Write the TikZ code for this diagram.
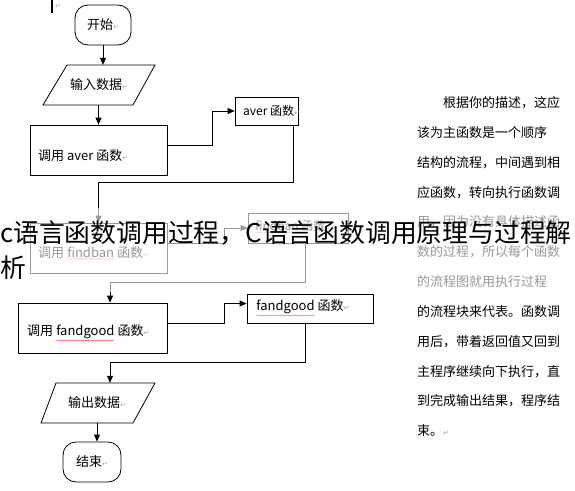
\documentclass[tikz,border=0pt]{standalone}
\usepackage{fontspec}
\setmainfont{Noto Sans CJK SC}
\newfontfamily\symfont{DejaVu Sans}
\usetikzlibrary{arrows.meta,decorations.pathmorphing}
\newcommand\parmark{{\symfont\color{gray!70}\fontsize{7}{7}\selectfont ↵}}
\newcommand\wavyword[1]{\tikz[baseline=(w.base),x=1cm,y=1cm]{\node[inner sep=0pt,outer sep=0pt](w){#1};\draw[red!80,line width=0.3pt,decorate,decoration={snake,amplitude=0.6pt,segment length=2.5pt}] ([yshift=-1.5pt]w.south west) -- ([yshift=-1.5pt]w.south east);}}
\begin{document}
\begin{tikzpicture}[x=1pt,y=-1pt,
  lbl/.style={font=\fontsize{13}{13}\selectfont, inner sep=0pt, anchor=west},
  boxs/.style={draw, line width=0.8pt, inner sep=0pt},
  term/.style={boxs, rounded corners=13pt, font=\fontsize{13}{13}\selectfont},
  para/.style={inner sep=0pt, minimum width=60pt, minimum height=40pt, font=\fontsize{13}{13}\selectfont},
  arr/.style={line width=0.8pt, -{Triangle[length=7pt,width=6pt]}},
  ln/.style={line width=0.8pt},
  rtxt/.style={font=\fontsize{13}{13}\selectfont, inner sep=0pt, anchor=west},
  ovl/.style={font=\fontsize{25.8}{26}\selectfont, inner sep=0pt, anchor=west}
]
\useasboundingbox (0,0) rectangle (575,490);

% cursor mark
\draw[line width=1.5pt] (52,0) -- (52,13);
\node[lbl] (cur) at (55,6) {\parmark};

% start
\node[term, minimum width=56pt, minimum height=40pt] (start) at (103,25) {开始\parmark};

% input
\draw[ln] (67,65) -- (155,65) -- (133,105) -- (43,105) -- cycle;
\node[para] (in) at (99,85) {输入数据\parmark};
\draw[arr] (start.south) -- (start.south |- in.north);

% call aver
\node[boxs, minimum width=137pt, minimum height=50pt] (c1) at (98.5,150) {};
\node[lbl] (c1t) at (38,156) {调用 aver 函数\parmark};
\draw[arr] (in.south -| c1.north) -- (c1.north);

% aver function
\node[boxs, minimum width=63pt, minimum height=28pt] (af) at (266.5,111) {};
\node[lbl, font=\fontsize{12}{12}\selectfont] (aft) at (243,111) {aver 函数\parmark};
\draw[arr] ([yshift=5pt]c1.east) -- ++(45,0) |- (af.west);

% call findban
\node[boxs, minimum width=137pt, minimum height=50pt] (c2) at (98.5,248) {};
\node[lbl] (c2t) at (38,253) {调用 \wavyword{findban} 函数\parmark};
\draw[arr] ([xshift=26.5pt]af.south) |- ([yshift=40pt]c2.north) -- (c2.north);

% findban function
\node[boxs, minimum width=100pt, minimum height=30pt] (ff) at (298,228) {};
\node[lbl, font=\fontsize{12}{12}\selectfont] (fft) at (255,227) {\wavyword{findban} 函数\parmark};
\draw[arr] ([yshift=5pt]c2.east) -- ++(57,0) |- (ff.west);

% call fandgood
\node[boxs, minimum width=149pt, minimum height=50pt] (c3) at (92.5,328) {};
\node[lbl] (c3t) at (27,333) {调用 \wavyword{fandgood} 函数\parmark};
\draw[arr] ([xshift=7pt]ff.south) |- ([xshift=17.5pt,yshift=20pt]c3.north) -- ([xshift=17.5pt]c3.north);

% fandgood function
\node[boxs, minimum width=126pt, minimum height=29pt] (fg) at (310,308.5) {};
\node[lbl] (fgt) at (256,308) {\wavyword{fandgood} 函数\parmark};
\draw[arr] ([yshift=5pt]c3.east) -- ++(57,0) |- ([yshift=5pt]fg.west);

% output
\draw[ln] (56,383) -- (155,383) -- (133,423) -- (41,423) -- cycle;
\node[para] (out) at (97,403) {输出数据\parmark};
\draw[arr] ([xshift=-5pt]fg.south) |- ([xshift=13pt,yshift=20pt]out.north) -- ([xshift=13pt]out.north);

% end
\node[term, minimum width=58pt, minimum height=40pt] (end) at (92,462) {结束\parmark};
\draw[arr] (out.south) -- (out.south |- end.north);

% right text
\node[rtxt] (p1) at (443,103) {根据你的描述，这应};
\node[rtxt] (p2) at (417,132.8) {该为主函数是一个顺序};
\node[rtxt] (p3) at (417,162.6) {结构的流程，中间遇到相};
\node[rtxt] (p4) at (417,192.4) {应函数，转向执行函数调};
\node[rtxt] (p5) at (417,222.2) {用，因为没有具体描述函};
\node[rtxt] (p6) at (417,252) {数的过程，所以每个函数};
\node[rtxt] (p7) at (417,281.8) {的流程图就用执行过程};
\node[rtxt] (p8) at (417,311.6) {的流程块来代表。函数调};
\node[rtxt] (p9) at (417,341.4) {用后，带着返回值又回到};
\node[rtxt] (p10) at (417,371.2) {主程序继续向下执行，直};
\node[rtxt] (p11) at (417,401) {到完成输出结果，程序结};
\node[rtxt] (p12) at (417,430.8) {束。\parmark};

% faded band and overlay title
\fill[white, fill opacity=0.6] (0,208) rectangle (575,292);
\node[ovl] (ov1) at (0,233) {c语言函数调用过程，C语言函数调用原理与过程解};
\node[ovl] (ov2) at (0,268) {析};
\end{tikzpicture}
\end{document}
